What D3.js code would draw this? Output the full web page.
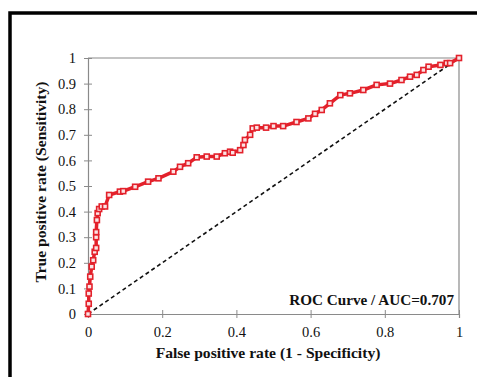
<!DOCTYPE html>
<html>
<head>
<meta charset="utf-8">
<script src="https://cdn.jsdelivr.net/npm/d3@7"></script>
<style>
  body { margin: 0; background: #fff; }
  svg text { font-family: "Liberation Serif", "Times New Roman", serif; fill: #111; }
</style>
</head>
<body>
<div id="chart"></div>
<script>
// ROC points
const fpr = [0, 0.002, 0.002, 0.004, 0.006, 0.010, 0.014, 0.018, 0.022, 0.022, 0.022, 0.024, 0.026, 0.030,
  0.037, 0.046, 0.057, 0.086, 0.095, 0.127, 0.162, 0.19, 0.23, 0.248, 0.27, 0.293, 0.32, 0.347, 0.369,
  0.383, 0.39, 0.41, 0.419, 0.423, 0.437, 0.444, 0.455, 0.48, 0.50, 0.526, 0.562, 0.594, 0.612, 0.63,
  0.652, 0.68, 0.706, 0.742, 0.778, 0.814, 0.845, 0.868, 0.886, 0.904, 0.918, 0.95, 0.967, 0.976, 1];
const tpr = [0, 0.04, 0.08, 0.107, 0.146, 0.185, 0.21, 0.243, 0.258, 0.30, 0.32, 0.367, 0.394, 0.41,
  0.42, 0.42, 0.465, 0.478, 0.48, 0.497, 0.517, 0.53, 0.556, 0.575, 0.589, 0.612, 0.615, 0.615, 0.628,
  0.634, 0.63, 0.64, 0.66, 0.68, 0.70, 0.725, 0.728, 0.728, 0.734, 0.734, 0.75, 0.764, 0.782, 0.797,
  0.823, 0.855, 0.862, 0.875, 0.895, 0.90, 0.914, 0.927, 0.934, 0.953, 0.966, 0.973, 0.98, 0.98, 1];
const xTicks = [0, 0.2, 0.4, 0.6, 0.8, 1];
const yTicks = [0, 0.1, 0.2, 0.3, 0.4, 0.5, 0.6, 0.7, 0.8, 0.9, 1];
const legendText = "ROC Curve / AUC=0.707";

const width = 477, height = 377;
const mLeft = 88, mRight = 459, mTop = 58, mBottom = 314;
const red = "#e3212b", grey = "#8a8a8a";

const svg = d3.select("#chart").append("svg")
  .attr("width", width)
  .attr("height", height);

// outer black frame (runs off the right and bottom edges)
svg.append("rect")
  .attr("x", 10).attr("y", 13)
  .attr("width", 520).attr("height", 420)
  .attr("fill", "none")
  .attr("stroke", "#000")
  .attr("stroke-width", 3.5);

const x = d3.scaleLinear().domain([0, 1]).range([mLeft, mRight]);
const y = d3.scaleLinear().domain([0, 1]).range([mBottom, mTop]);

// plot box top + right
svg.append("path")
  .attr("d", `M${mLeft},${mTop}H${mRight}V${mBottom}`)
  .attr("fill", "none")
  .attr("stroke", grey)
  .attr("stroke-width", 1.2);

// x axis
const gx = svg.append("g")
  .attr("transform", `translate(0,${mBottom})`)
  .call(d3.axisBottom(x).tickValues(xTicks).tickFormat(d3.format("")).tickSize(4).tickPadding(0));
gx.select(".domain").attr("stroke", grey).attr("stroke-width", 1.2);
gx.selectAll(".tick line").attr("stroke", grey).attr("y1", -4).attr("y2", 4);
gx.selectAll(".tick text").attr("y", 23).attr("dy", 0).attr("font-size", 14.5);

// y axis
const gy = svg.append("g")
  .attr("transform", `translate(${mLeft},0)`)
  .call(d3.axisLeft(y).tickValues(yTicks).tickFormat(d3.format("")).tickSize(4));
gy.select(".domain").attr("stroke", grey).attr("stroke-width", 1.2);
gy.selectAll(".tick line").attr("stroke", grey).attr("x1", -4).attr("x2", 4);
gy.selectAll(".tick text").attr("x", -12).attr("dy", "0.32em").attr("font-size", 14.5);

// chance diagonal
svg.append("line")
  .attr("x1", x(0)).attr("y1", y(0))
  .attr("x2", x(1)).attr("y2", y(1))
  .attr("stroke", "#111")
  .attr("stroke-width", 1.6)
  .attr("stroke-dasharray", "4,3");

// ROC curve
const pts = fpr.map((d, i) => [d, tpr[i]]);
const line = d3.line().x(d => x(d[0])).y(d => y(d[1]));
svg.append("path")
  .datum(pts)
  .attr("d", line)
  .attr("fill", "none")
  .attr("stroke", red)
  .attr("stroke-width", 3.5)
  .attr("stroke-linejoin", "round");

svg.selectAll("rect.mk")
  .data(pts)
  .enter()
  .append("rect")
  .attr("class", "mk")
  .attr("x", d => x(d[0]) - 2.5)
  .attr("y", d => y(d[1]) - 2.5)
  .attr("width", 5).attr("height", 5)
  .attr("fill", "#fbe3e4")
  .attr("stroke", red)
  .attr("stroke-width", 1.6);

// legend label
svg.append("text")
  .attr("x", 454).attr("y", 305)
  .attr("text-anchor", "end")
  .attr("font-size", 15.2)
  .attr("font-weight", "bold")
  .text(legendText);

// axis titles
svg.append("text")
  .attr("x", 268).attr("y", 358)
  .attr("text-anchor", "middle")
  .attr("font-size", 15.6)
  .attr("font-weight", "bold")
  .text("False positive rate (1 - Specificity)");

svg.append("text")
  .attr("transform", "translate(46,182) rotate(-90)")
  .attr("text-anchor", "middle")
  .attr("font-size", 15.6)
  .attr("font-weight", "bold")
  .text("True positive rate (Sensitivity)");
</script>
</body>
</html>
